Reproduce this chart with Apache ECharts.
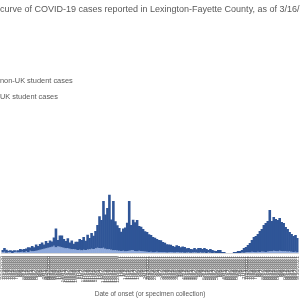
<!DOCTYPE html>
<html>
<head>
<meta charset="utf-8" />
<title>Epidemic curve</title>
<script src="https://cdn.jsdelivr.net/npm/echarts@6/dist/echarts.min.js"></script>
<style>
  html, body { margin: 0; padding: 0; background: #fff; overflow: hidden; }
  #chart { width: 300px; height: 300px; }
</style>
</head>
<body>
<div id="chart"></div>
<script type="text/javascript">
// UK student cases (bottom of stack)
var ukCases = [
  3,5,1,4,3,0,4,5,3,4, 5,3,7,4,9,7,8,9,11,13,
  15,17,19,21,23,25,29,23,27,25, 23,21,19,20,17,15,16,14,12,13,
  11,13,12,14,15,17,16,19,21,20,
  19,21,17,15,16,13,11,12,10,9, 8,9,7,8,9,11,12,8,7,9,
  8,7,6,5,4,5,3,4,5,3, 4,3,4,2,3,4,3,2,4,3,
  2,3,1,2,3,1,2,3,2,1,
  3,1,2,0,3,1,0,1,0,0, 0,0,0,0,0,0,0,0,0,0,
  0,2,1,3,4,3,5,4,3,5, 4,6,5,4,6,8,7,9,8,7,
  9,8,7,8,6,7,5,4,5,3
];
// non-UK student cases (top of stack)
var nonUkCases = [
  9,15,12,5,8,9,7,5,8,12, 9,13,11,19,13,21,15,25,17,23,
  27,17,29,19,27,21,33,75,25,45, 47,35,29,39,25,35,21,31,33,43,
  41,51,37,59,45,63,53,69,91,127,
  113,187,137,165,217,121,197,115,101,91, 77,89,95,113,199,101,121,115,125,99,
  97,89,81,79,71,67,61,57,51,49, 47,41,37,33,31,29,25,23,27,25,
  21,23,23,17,17,15,13,17,13,19,
  17,15,18,16,9,15,12,8,8,12, 12,4,4,0,0,0,0,4,4,8,
  8,10,19,21,28,37,47,60,65,71, 84,90,107,116,122,164,121,135,128,125,
  131,116,113,96,90,77,71,64,67,57
];
// date of onset labels
var firstDay = new Date(2020, 6, 10);
var dayStep = 3;
var dates = [];
for (var i = 0; i < ukCases.length; i++) {
  var d = new Date(firstDay.getTime() + i * dayStep * 86400000);
  dates.push((d.getMonth() + 1) + '/' + d.getDate() + '/' + d.getFullYear());
}

var fontName = '"Liberation Sans", Arial, sans-serif';
var titleText = 'Epidemic curve of COVID-19 cases reported in Lexington-Fayette County, as of 3/16/2022';
var titleSize = 9;
var ctx = document.createElement('canvas').getContext('2d');
ctx.font = titleSize + 'px ' + fontName;
var hidden = ctx.measureText('Epidemic ').width;

var chart = echarts.init(document.getElementById('chart'));
var option = {
  animation: false,
  title: {
    text: titleText,
    left: -hidden,
    top: 5,
    padding: 0,
    textStyle: { fontSize: titleSize, fontWeight: 'normal', color: '#595959', fontFamily: fontName }
  },
  legend: {
    orient: 'vertical',
    left: -15,
    top: 77,
    padding: 0,
    itemWidth: 10,
    itemHeight: 7,
    itemGap: 9,
    data: ['non-UK student cases', 'UK student cases'],
    textStyle: { fontSize: 7.4, color: '#595959', fontFamily: fontName, padding: 0 }
  },
  grid: { left: 0, right: 0, top: 103, bottom: 47 },
  xAxis: {
    type: 'category',
    data: dates,
    name: 'Date of onset (or specimen collection)',
    nameLocation: 'middle',
    nameGap: 38,
    nameTextStyle: { fontSize: 6.6, color: '#595959', fontFamily: fontName },
    axisLine: { lineStyle: { color: '#d9d9d9' } },
    axisTick: { show: false },
    axisLabel: { interval: 0, rotate: 90, fontSize: 5.4, margin: 3, color: '#595959', fontFamily: fontName }
  },
  yAxis: {
    type: 'value',
    min: 0,
    max: 600,
    show: false,
    splitLine: { show: false }
  },
  series: [
    {
      name: 'UK student cases',
      type: 'bar',
      stack: 'cases',
      data: ukCases,
      barWidth: 2.6,
      itemStyle: { color: '#8faadc' }
    },
    {
      name: 'non-UK student cases',
      type: 'bar',
      stack: 'cases',
      data: nonUkCases,
      barWidth: 2.6,
      itemStyle: { color: '#2f5597' }
    }
  ]
};
chart.setOption(option);
</script>
</body>
</html>
